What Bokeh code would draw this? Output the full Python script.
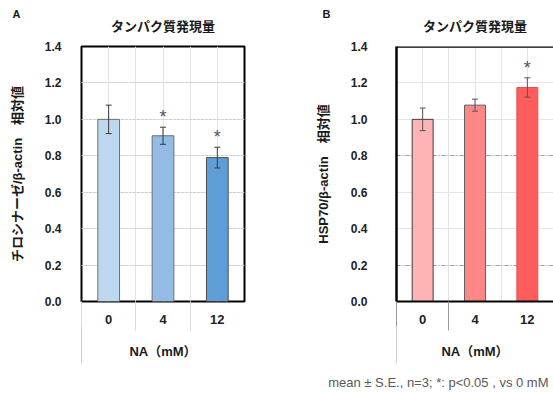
from bokeh.plotting import figure
from bokeh.layouts import row
from bokeh.models import (ColumnDataSource, Range1d, LinearAxis, FixedTicker,
                          Whisker, TeeHead, Span, NumeralTickFormatter, Grid)
from bokeh.core.properties import value
from bokeh.embed import file_html
from bokeh.resources import INLINE

# ---- data ----
doses = ["0", "4", "12"]
a_mean = [1.00, 0.91, 0.79]
a_se = [0.078, 0.047, 0.057]
a_sig = ["", "*", "*"]
b_mean = [1.00, 1.078, 1.175]
b_se = [0.062, 0.033, 0.053]
b_sig = ["", "", "*"]
y_ticks = [0.0, 0.2, 0.4, 0.6, 0.8, 1.0, 1.2, 1.4]
a_grid = [0.2, 0.4, 0.6, 0.8, 1.0, 1.2]
b_grid = [0.2, 0.8]
title_text = "タンパク質発現量"
a_ylabel = "チロシナーゼ/β-actin　相対値"
b_ylabel = "HSP70/β-actin　相対値"
x_label = "NA（mM）"
footnote = "mean ± S.E., n=3; *: p<0.05 , vs 0 mM"

# ---- styles ----
a_colors = ["#BDD7EE", "#93BBE3", "#5F9DD6"]
a_lines = ["#6F6F6F", "#6F6F6F", "#4F4F4F"]
b_colors = ["#FFB3B5", "#FF8787", "#FF5C5C"]
b_lines = ["#3F3F3F", "#5F5F5F", "#E05050"]
FONT = "Liberation Sans, Noto Sans CJK JP"
H = 393


def make_panel(width, mean, se, sig, colors, lines, ylabel, letter, letter_off,
               bl, br, bt, bb, grid_ticks, grid_color, grid_dash,
               tick_standoff, label_standoff, seps, err_color, boxed):
    n = len(doses)
    xpos = [i + 0.5 for i in range(n)]  # category slots on the category axis
    upper = [m + s for m, s in zip(mean, se)]
    lower = [m - s for m, s in zip(mean, se)]
    star_y = [u + 0.055 for u in upper]
    src = ColumnDataSource(dict(x=xpos, dose=doses, mean=mean, upper=upper, lower=lower,
                                sig=sig, star_y=star_y, color=colors, line=lines))
    p = figure(width=width, height=H, x_range=Range1d(0, n),
               y_range=Range1d(0, 1.4), output_backend="svg", toolbar_location=None,
               x_axis_location=None, y_axis_location=None,
               min_border_left=bl, min_border_right=br, min_border_top=bt,
               min_border_bottom=bb, title=letter)
    # panel letter
    p.title.align = "left"
    p.title.offset = letter_off
    p.title.standoff = -8
    p.title.text_font = FONT
    p.title.text_font_size = "11px"
    p.title.text_font_style = "bold"
    p.title.text_color = "#1a1a1a"
    p.background_fill_color = "white"
    p.border_fill_color = "white"
    if boxed:
        p.outline_line_color = "black"
        p.outline_line_width = 2
    else:
        p.outline_line_color = None

    g = Grid(dimension=1, ticker=FixedTicker(ticks=grid_ticks),
             grid_line_color=grid_color, grid_line_dash=grid_dash, grid_line_width=1)
    p.add_layout(g)

    # chart title, centred over the plot area
    axt = LinearAxis(ticker=FixedTicker(ticks=[], minor_ticks=[]),
                     axis_line_color=None, major_tick_line_color=None,
                     minor_tick_line_color=None, major_label_text_font_size="0px",
                     major_label_standoff=0,
                     axis_label=title_text, axis_label_standoff=13,
                     axis_label_text_font=FONT, axis_label_text_font_size="13px",
                     axis_label_text_font_style="bold", axis_label_text_color="#1a1a1a")
    p.add_layout(axt, "above")

    yax = LinearAxis(ticker=FixedTicker(ticks=y_ticks, minor_ticks=[]),
                     formatter=NumeralTickFormatter(format="0.0"),
                     major_tick_line_color=None, minor_tick_line_color=None,
                     axis_line_color=None if boxed else "black",
                     axis_line_width=2.5,
                     major_label_standoff=tick_standoff,
                     major_label_text_font=FONT, major_label_text_font_size="12px",
                     major_label_text_font_style="bold", major_label_text_color="#222222",
                     axis_label=ylabel, axis_label_standoff=label_standoff,
                     axis_label_text_font=FONT, axis_label_text_font_size="13px",
                     axis_label_text_font_style="bold", axis_label_text_color="#1a1a1a")
    p.add_layout(yax, "left")

    # category labels + separators between categories
    ax1 = LinearAxis(ticker=FixedTicker(ticks=xpos, minor_ticks=seps[0]),
                     major_label_overrides={c: d for c, d in zip(xpos, doses)},
                     axis_line_color=None if boxed else "black", axis_line_width=2,
                     major_tick_line_color=None, major_tick_out=0, major_tick_in=0,
                     minor_tick_line_color=seps[1], minor_tick_out=29, minor_tick_in=0,
                     major_label_standoff=-16,
                     major_label_text_font=FONT, major_label_text_font_size="13px",
                     major_label_text_font_style="bold", major_label_text_color="#222222")
    p.add_layout(ax1, "below")
    # axis title + left boundary line of the category box
    ax2 = LinearAxis(ticker=FixedTicker(ticks=[], minor_ticks=[0]),
                     axis_line_color=None, major_tick_line_color=None,
                     minor_tick_line_color="#D0D0D0", minor_tick_out=37, minor_tick_in=0,
                     major_label_text_font_size="0px", major_label_standoff=0,
                     axis_label=x_label, axis_label_standoff=-20,
                     axis_label_text_font=FONT, axis_label_text_font_size="13px",
                     axis_label_text_font_style="bold", axis_label_text_color="#1a1a1a")
    p.add_layout(ax2, "below")

    if not boxed:
        p.add_layout(Span(location=1.4, dimension="width", line_color="black", line_width=2.5))

    p.vbar(x="x", top="mean", width=0.4, source=src, fill_color="color",
           line_color="line", line_width=1)
    w = Whisker(base="x", upper="upper", lower="lower", source=src,
                line_color=err_color, line_width=1, level="annotation",
                upper_head=TeeHead(size=6, line_color=err_color, line_width=1),
                lower_head=TeeHead(size=6, line_color=err_color, line_width=1))
    p.add_layout(w)
    p.text(x="x", y="star_y", text="sig", source=src, text_align="center",
           text_baseline="middle", text_font_size="18px", text_color="#4A5568",
           text_font=value(FONT))
    return p


pa = make_panel(280, a_mean, a_se, a_sig, a_colors, a_lines, a_ylabel, "A", -69,
                81, 36, 46, 90, a_grid, "#C8C8C8", "2 2", 14, 17,
                ([0, 1, 2], "#D9D9D9"), "#3a3a3a", True)
pb = make_panel(273, b_mean, b_se, b_sig, b_colors, b_lines, b_ylabel, "B", -74,
                116, 0, 45, 92, b_grid, "#A0A0A0", "4 2 1 2", 23, 17,
                ([0, 1], "#9A9A9A"), "#555555", False)

# footnote line under panel B (placed as a label on an extra bottom axis)
foot_x = 0.8
axf = LinearAxis(ticker=FixedTicker(ticks=[foot_x], minor_ticks=[]),
                 major_label_overrides={foot_x: footnote},
                 axis_line_color=None, major_tick_line_color=None, major_tick_out=0,
                 minor_tick_line_color=None, major_label_standoff=13,
                 major_label_text_font=FONT, major_label_text_font_size="13px",
                 major_label_text_color="#595959")
pb.add_layout(axf, "below")

layout = row(pa, pb, spacing=0)
open("out.html", "w").write(file_html(layout, INLINE))
